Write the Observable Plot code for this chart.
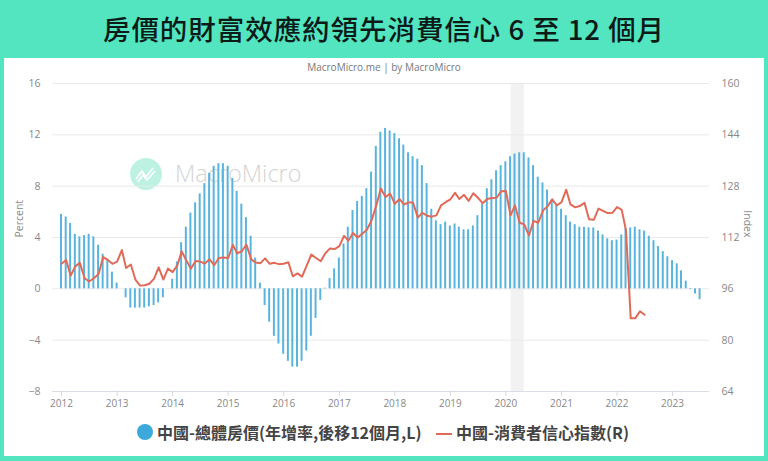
<!DOCTYPE html>
<html lang="zh-Hant">
<head>
<meta charset="utf-8">
<script src="https://cdn.jsdelivr.net/npm/d3@7"></script>
<script src="https://cdn.jsdelivr.net/npm/@observablehq/plot@0.6"></script>
<style>
html,body{margin:0;padding:0;width:768px;height:461px;overflow:hidden;background:#52e5bf;}
#title{position:absolute;left:0;top:0;width:768px;height:58px;line-height:56px;text-align:center;font-family:"Noto Sans CJK TC",sans-serif;font-weight:500;font-size:27.5px;letter-spacing:.95px;color:#0c1a18;white-space:nowrap;}
#card{position:absolute;left:4px;top:58px;width:760px;height:398px;background:#fff;}
#credit{position:absolute;left:0;width:768px;top:60px;text-align:center;font:10px "Open Sans",sans-serif;color:#777;}
#wm{position:absolute;left:129px;top:157px;width:34px;height:34px;}
#wmt{position:absolute;left:175px;top:157px;font:300 23.5px "Open Sans",sans-serif;color:#d4d4d4;white-space:nowrap;}
#chart{position:absolute;left:0;top:0;}
.lg{position:absolute;top:421px;font:700 16px "Noto Sans CJK TC",sans-serif;color:#444;white-space:nowrap;line-height:22px;}
#dot{position:absolute;left:137px;top:424px;width:16px;height:16px;border-radius:50%;background:#3ba9d9;}
#dash{position:absolute;left:436px;top:433px;width:16px;height:2px;background:#e06a58;}
</style>
</head>
<body>
<div id="title">房價的財富效應約領先消費信心 6 至 12 個月</div>
<div id="card"></div>
<svg id="wm" viewBox="0 0 34 34"><circle cx="17" cy="17" r="16" fill="#bdf2e3"/><path d="M7 22 L13 14 L17 20 L24 11 M9 25 L14 18 L18 23 L26 14" fill="none" stroke="#fff" stroke-width="1.6"/></svg>
<div id="wmt">MacroMicro</div>
<div id="credit">MacroMicro.me | by MacroMicro</div>
<div id="chart"></div>
<div id="dot"></div>
<div class="lg" style="left:157px">中國-總體房價(年增率,後移12個月,L)</div>
<div id="dash"></div>
<div class="lg" style="left:456px">中國-消費者信心指數(R)</div>
<script>
const startYear = 2012;
const yTicks = [-8, -4, 0, 4, 8, 12, 16];
const rightTicks = [64, 80, 96, 112, 128, 144, 160];
const yearTicks = [2012,2013,2014,2015,2016,2017,2018,2019,2020,2021,2022,2023];
const housePrice = [
 5.8,5.6,5.1,4.25,4.05,4.15,4.25,4.05,3.4,2.7,2.2,1.3,
 0.45,0,-0.7,-1.5,-1.5,-1.5,-1.5,-1.4,-1.3,-1.1,-0.7,0,
 0.75,2.1,3.6,4.8,5.9,6.7,7.4,8.2,9.0,9.55,9.75,9.75,
 9.55,8.6,7.6,6.6,5.55,4.1,2.4,0.45,-1.3,-2.6,-3.7,-4.3,
 -5.1,-5.65,-6.1,-6.1,-5.65,-4.85,-3.7,-2.3,-0.9,0.05,0.8,1.55,
 2.4,3.5,4.8,6.1,6.8,7.2,7.8,9.1,11.1,12.2,12.5,12.3,
 12.1,11.7,11.2,10.6,10.3,10.1,9.6,8.2,6.2,5.3,5.0,5.2,
 4.9,5.05,4.8,4.6,4.6,4.9,5.7,6.6,7.8,8.5,9.2,9.6,
 9.9,10.3,10.5,10.6,10.6,10.2,9.6,8.7,8.25,7.7,6.9,6.5,
 6.2,5.7,5.2,5.0,4.8,4.8,4.75,4.75,4.5,4.2,3.9,3.75,
 3.8,4.2,4.7,4.75,4.8,4.6,4.5,4.1,3.75,3.3,2.9,2.5,
 2.2,1.95,1.4,0.6,-0.05,-0.4,-0.85
];
const confidence = [
 103.8,105,100.1,103,104.1,99.3,98.3,99.3,100.6,105.9,105,103.8,
 104.5,108.1,102.5,103.6,98.9,97,97.1,97.6,99.2,102.7,98.9,102.3,
 101.2,103.3,107.7,104.8,102.3,104.7,104.5,103.9,105.2,103.4,105.6,105.8,
 105.6,109.7,107.1,107.7,109.8,105.2,104.2,104,105.5,103.8,104.1,103.7,
 103.8,104.3,99.9,100.8,99.8,103.3,106.7,105.6,104.6,107.1,108.6,108.4,
 109.3,112.5,111,113.4,112,113.2,114.4,117.3,122,127.3,124.6,125.7,
 122.5,124,122.3,122.9,122.9,118.2,119.7,118.8,118.5,118.9,122,123,
 123.9,125.9,124,125.3,123.4,125.8,124.4,122.7,124,124.3,124.4,126.4,
 126.5,118.9,122,116.6,116.1,112.6,117.2,116.6,120.4,121.7,123.9,122,
 123,126.9,122.3,121.4,121.8,122.8,117.7,117.5,121,120.3,119.6,119.7,
 121.5,120.6,114.2,86.8,86.8,89,87.9
];
const recession = [{start: new Date(Date.UTC(2020,1,5)), end: new Date(Date.UTC(2020,4,1))}];

const month = i => new Date(Date.UTC(startYear, i, 1));
const shift = (i, days) => new Date(+month(i) + days * 864e5);
const toLeft = r => (r - 96) / 4;
const toRight = l => 96 + 4 * l;
const idxB = housePrice.map((_, i) => i);
const idxL = confidence.map((_, i) => i);
const font = '"Open Sans",sans-serif';

const plot = Plot.plot({
  width: 768, height: 420,
  marginTop: 83, marginBottom: 29, marginLeft: 52, marginRight: 59,
  style: {background: "transparent", fontFamily: font, fontSize: "10px", color: "#888"},
  x: {type: "utc", domain: [new Date(Date.UTC(2011,10,3)), new Date(Date.UTC(2023,8,1))]},
  y: {domain: [-8, 16]},
  marks: [
    Plot.rectY(recession, {x1: "start", x2: "end", y1: -8, y2: 16, fill: "#f2f2f2"}),
    Plot.ruleY(yTicks.filter(d => d > -8), {stroke: "#e9e9e9", strokeWidth: 1}),
    Plot.ruleY([-8], {stroke: "#d9dde6", strokeWidth: 1}),
    Plot.axisY({ticks: yTicks, anchor: "left", tickSize: 0, tickPadding: 12, label: null, fill: "#888", fontSize: 10.5}),
    Plot.axisY({ticks: yTicks, anchor: "right", tickSize: 0, tickPadding: 12, label: null, fill: "#888", fontSize: 10.5, tickFormat: toRight}),
    Plot.axisX({ticks: yearTicks.map(y => new Date(Date.UTC(y,0,1))), tickFormat: d => String(d.getUTCFullYear()), tickSize: 5, tickPadding: 3, stroke: "#d5d9e2", fill: "#888", fontSize: 10, label: null}),
    Plot.text(["Percent"], {frameAnchor: "left", dx: -33, rotate: -90, fill: "#888", fontSize: 10.5}),
    Plot.text(["Index"], {frameAnchor: "right", dx: 38, rotate: 90, fill: "#888", fontSize: 10.5}),
    Plot.rectY(idxB, {x1: i => shift(i, -6.5), x2: i => shift(i, 6.5), y1: 0, y2: i => housePrice[i], fill: "#58b4dc"}),
    Plot.lineY(idxL, {x: month, y: i => toLeft(confidence[i]), stroke: "#e06a58", strokeWidth: 2, curve: "linear"})
  ]
});
document.getElementById("chart").append(plot);
</script>
</body>
</html>
